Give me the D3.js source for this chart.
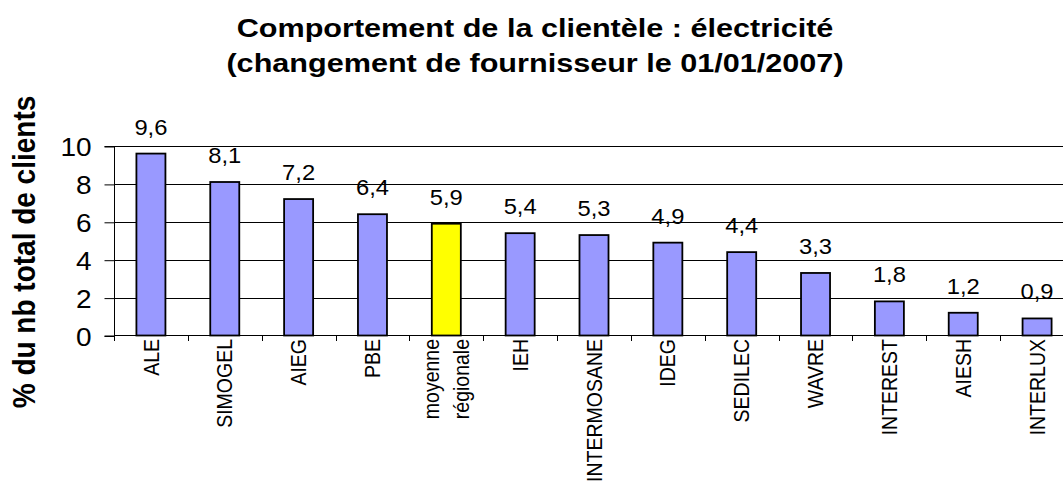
<!DOCTYPE html>
<html>
<head>
<meta charset="utf-8">
<script src="https://cdn.jsdelivr.net/npm/d3@7"></script>
<style>
	body { margin: 0; background: #fff; }
	text { font-family: "Liberation Sans", Arial, sans-serif; fill: #000; }
</style>
</head>
<body>
<div id="chart"></div>
<script>
// data
const categories = ['ALE', 'SIMOGEL', 'AIEG', 'PBE', 'moyenne régionale', 'IEH', 'INTERMOSANE',
	'IDEG', 'SEDILEC', 'WAVRE', 'INTEREST', 'AIESH', 'INTERLUX']
const values = [9.6, 8.1, 7.2, 6.4, 5.9, 5.4, 5.3, 4.9, 4.4, 3.3, 1.8, 1.2, 0.9]
const highlighted = ['moyenne régionale']
const yTicks = [0, 2, 4, 6, 8, 10]
const titleLines = ['Comportement de la clientèle : électricité', '(changement de fournisseur le 01/01/2007)']
const yTitle = '% du nb total de clients'

const width = 1063
const height = 483

let svg = d3.select('#chart')
	.append('svg')
	.attr('width', width)
	.attr('height', height)

let x = d3.scaleBand()
	.domain(categories)
	.range([114, 1074])
	.paddingInner(0.607)
	.paddingOuter(0.3035)

let y = d3.scaleLinear()
	.domain([0, 10])
	.range([335.5, 146])

let fmt = v => d3.format('.1f')(v).replace('.', ',')

// title, text is a bit stretched sideways in the original
svg.append('g')
	.attr('transform', 'translate(535,0) scale(1.2,1)')
	.selectAll('text')
	.data(titleLines)
	.enter()
		.append('text')
		.attr('y', (d, i) => 37 + i * 35)
		.attr('text-anchor', 'middle')
		.attr('font-size', 25.5)
		.attr('font-weight', 'bold')
		.text(d => d)

svg.append('text')
	.attr('transform', 'translate(35,252) rotate(-90) scale(1,1.1)')
	.attr('text-anchor', 'middle')
	.attr('font-size', 28)
	.attr('font-weight', 'bold')
	.text(yTitle)

// gridlines
svg.append('g')
	.selectAll('line')
	.data(yTicks.filter(d => d > 0))
	.enter()
		.append('line')
		.attr('x1', 114)
		.attr('x2', width)
		.attr('y1', d => Math.round(y(d)) + 0.5)
		.attr('y2', d => Math.round(y(d)) + 0.5)
		.attr('stroke', '#000')

// left axis
let yAxis = d3.axisLeft(y)
	.tickValues(yTicks)
	.tickSize(10)
	.tickPadding(13)
	.tickFormat(d3.format('d'))

let yG = svg.append('g')
	.attr('transform', 'translate(114.5,0.5)')
	.call(yAxis)
yG.select('.domain').attr('stroke', '#000').attr('d', 'M-10,' + y(10) + 'H0V' + y(0) + 'H-10')
yG.selectAll('.tick line').attr('stroke', '#000')
yG.selectAll('.tick text')
	.attr('font-size', 25)
	.attr('font-family', null)
	.attr('dy', '0.36em')
	.each(function () {
		let t = d3.select(this)
		let xx = +t.attr('x')
		t.attr('transform', `translate(${xx},0) scale(1.12,1) translate(${-xx},0)`)
	})

// bars
svg.append('g')
	.selectAll('rect')
	.data(values)
	.enter()
		.append('rect')
		.attr('x', (d, i) => x(categories[i]))
		.attr('y', d => y(d))
		.attr('width', x.bandwidth())
		.attr('height', d => y(0) - y(d))
		.attr('fill', (d, i) => highlighted.includes(categories[i]) ? '#FFFF00' : '#9999FF')
		.attr('stroke', '#000')
		.attr('stroke-width', 1.8)

// value labels
svg.append('g')
	.selectAll('text')
	.data(values)
	.enter()
		.append('text')
		.attr('transform', (d, i) => `translate(${x(categories[i]) + x.bandwidth() / 2},${y(d) - 19}) scale(1.08,1)`)
		.attr('text-anchor', 'middle')
		.attr('font-size', 22)
		.text(d => fmt(d))

// bottom axis line and ticks between categories
svg.append('line')
	.attr('x1', 114)
	.attr('x2', width)
	.attr('y1', 335.5)
	.attr('y2', 335.5)
	.attr('stroke', '#000')

let step = x.step()
svg.append('g')
	.selectAll('line')
	.data(d3.range(categories.length + 1))
	.enter()
		.append('line')
		.attr('x1', i => Math.round(114 + i * step) + 0.5)
		.attr('x2', i => Math.round(114 + i * step) + 0.5)
		.attr('y1', 335.5)
		.attr('y2', 341)
		.attr('stroke', '#000')

// category labels, rotated
let catG = svg.append('g')
	.selectAll('g')
	.data(categories)
	.enter()
		.append('g')
		.attr('transform', d => `translate(${x(d) + x.bandwidth() / 2},339) rotate(-90) scale(1,1.12)`)

catG.each(function (d) {
	let words = d.split(' ')
	let lines = words.length > 1 ? words : [d]
	let g = d3.select(this)
	lines.forEach((w, i) => {
		g.append('text')
			.attr('text-anchor', 'end')
			.attr('font-size', 19.5)
			.attr('y', (i - (lines.length - 1) / 2) * 26)
			.attr('dy', '0.35em')
			.text(w)
	})
})
</script>
</body>
</html>
